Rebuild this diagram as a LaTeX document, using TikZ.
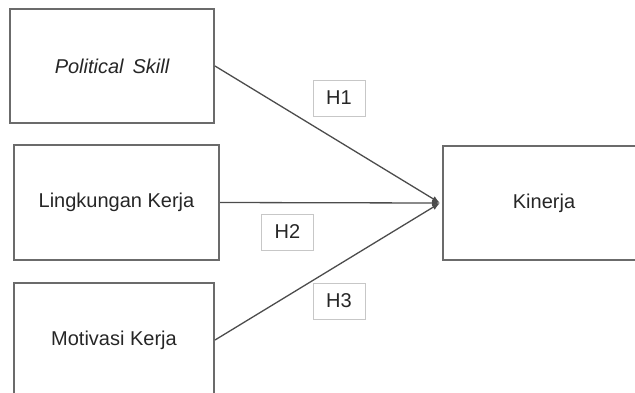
\documentclass[tikz,border=0pt]{standalone}
\usepackage{fontspec}
\setmainfont{Liberation Sans}
\usetikzlibrary{arrows.meta}
\definecolor{boxline}{gray}{0.42}
\definecolor{conline}{gray}{0.3}
\definecolor{hline}{gray}{0.78}
\begin{document}
\begin{tikzpicture}[x=0.5pt,y=-0.5pt,
  varbox/.style={draw=boxline,line width=1pt,inner sep=0pt,font=\fontsize{10}{12}\selectfont,text=black!85},
  hbox/.style={draw=hline,line width=0.5pt,fill=white,inner sep=0pt,minimum width=26pt,minimum height=18pt,font=\fontsize{10}{12}\selectfont,text=black!85},
  conn/.style={draw=conline,line width=0.65pt,-{Latex[length=4pt,width=3pt]}}]
\useasboundingbox (0,0) rectangle (635,392);
\clip (0,0) rectangle (635,392);
\node[varbox,minimum width=102pt,minimum height=57pt] (ps) at (112,66) {\itshape Political\, Skill};
\node[varbox,minimum width=102.5pt,minimum height=57.5pt] (lk) at (116.5,202.5) {Lingkungan Kerja};
\node[varbox,minimum width=100pt,minimum height=57pt] (mk) at (114,340) {Motivasi Kerja};
\node[inner sep=0pt,minimum width=101pt,minimum height=57pt] (kin) at (544,203) {};
\node[font=\fontsize{10}{12}\selectfont,text=black!85,inner sep=0pt] (kintext) at (kin.center) {Kinerja};
\draw[boxline,line width=1pt] ([xshift=20pt]kin.north east) -- (kin.north west) -- (kin.south west) -- ([xshift=20pt]kin.south east);
\coordinate (tip) at (440,203);
\draw[conn] (ps.east) -- (tip);
\draw[conn] (lk.east) -- (tip);
\draw[conn] (mk.east) -- (tip);
\node[hbox] (h1) at (339,98) {H1};
\node[hbox] (h2) at (287.5,232) {H2};
\node[hbox] (h3) at (339,301) {H3};
\end{tikzpicture}
\end{document}
